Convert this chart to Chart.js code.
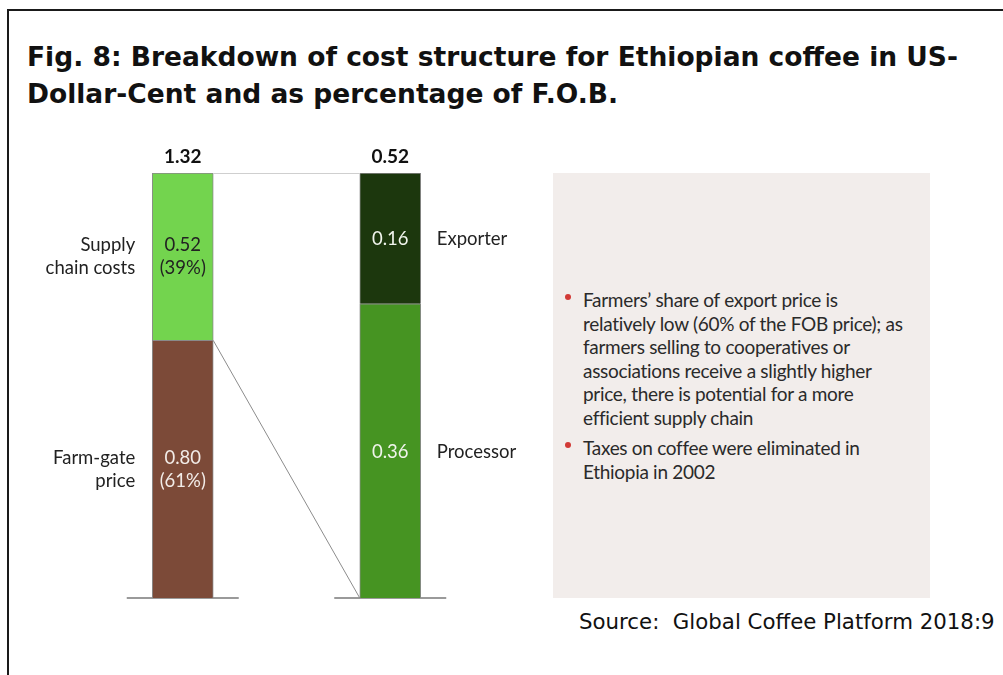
<!DOCTYPE html>
<html>
<head>
<meta charset="utf-8">
<script src="https://cdn.jsdelivr.net/npm/chart.js@4.4.1/dist/chart.umd.min.js"></script>
<style>
  html, body { margin:0; padding:0; background:#fff; }
  body { width:1003px; height:675px; position:relative; overflow:hidden; }
  #frame { position:absolute; left:7px; top:9px; width:1100px; height:800px; border:2px solid #1a1a1a; box-sizing:border-box; }
  #title { position:absolute; left:27px; top:38px; font-family:"DejaVu Sans", Verdana, sans-serif; font-weight:bold; font-size:26.5px; line-height:37px; color:#111; white-space:nowrap; }
  #box { position:absolute; left:553px; top:173px; width:377px; height:425px; background:#f2edeb; }
  .bul { position:absolute; left:583px; font-family:Lato, sans-serif; font-size:19px; line-height:23.5px; color:#2a2a2a; letter-spacing:-0.3px; }
  .bul span { display:block; white-space:nowrap; }
  .dot { position:absolute; width:6px; height:6px; border-radius:3px; background:#d23a36; left:565px; }
  #source { position:absolute; left:579px; top:609px; font-family:"DejaVu Sans", Verdana, sans-serif; font-size:21.3px; color:#111; white-space:nowrap; }
  #c { position:absolute; left:0; top:0; }
</style>
</head>
<body>
<div id="frame"></div>
<div id="title">Fig. 8: Breakdown of cost structure for Ethiopian coffee in US-<br>Dollar-Cent and as percentage of F.O.B.</div>
<div id="box"></div>
<div class="dot" style="top:294px"></div>
<div class="bul" style="top:288px"><span>Farmers’ share of export price is</span><span>relatively low (60% of the FOB price); as</span><span>farmers selling to cooperatives or</span><span>associations receive a slightly higher</span><span>price, there is potential for a more</span><span>efficient supply chain</span></div>
<div class="dot" style="top:442px"></div>
<div class="bul" style="top:436px"><span>Taxes on coffee were eliminated in</span><span>Ethiopia in 2002</span></div>
<div id="source">Source:&nbsp; Global Coffee Platform 2018:9</div>
<canvas id="c" width="1003" height="675"></canvas>
<script>
const categories = ['F.O.B.', 'Supply chain costs'];
const farmGate = [0.80, null];
const supplyChain = [0.52, null];
const processor = [null, 0.36];
const exporter = [null, 0.16];
const totals = [1.32, 0.52];
const totalLabels = ['1.32', '0.52'];
const shareLabels = ['(61%)', '(39%)'];

const labelFont = 'Lato, sans-serif';

const annot = {
  id: 'annot',
  beforeDatasetsDraw(chart) {
    const ctx = chart.ctx;
    const y0 = chart.scales.y.getPixelForValue(0);
    ctx.save();
    ctx.strokeStyle = '#9a9a9a';
    ctx.lineWidth = 2;
    chart.data.labels.forEach((_, i) => {
      const cx = chart.scales.x.getPixelForValue(i);
      ctx.beginPath();
      ctx.moveTo(cx - 56, y0);
      ctx.lineTo(cx + 56, y0);
      ctx.stroke();
    });
    ctx.restore();
  },
  afterDatasetsDraw(chart) {
    const ctx = chart.ctx;
    const m = i => chart.getDatasetMeta(i).data;
    const fg = m(0)[0], sc = m(1)[0], pr = m(2)[1], ex = m(3)[1];
    const half = fg.width / 2;
    ctx.save();
    // connectors
    ctx.strokeStyle = '#cfcfcf';
    ctx.lineWidth = 1;
    ctx.beginPath();
    ctx.moveTo(sc.x + half, sc.y + 0.5);
    ctx.lineTo(ex.x - half, ex.y + 0.5);
    ctx.stroke();
    ctx.strokeStyle = '#8c8c8c';
    ctx.beginPath();
    ctx.moveTo(fg.x + half, fg.y);
    ctx.lineTo(pr.x - half, pr.base);
    ctx.stroke();

    ctx.textBaseline = 'middle';
    // totals
    ctx.font = 'bold 19px ' + labelFont;
    ctx.fillStyle = '#111';
    ctx.textAlign = 'center';
    ctx.fillText(totalLabels[0], sc.x, sc.y - 16);
    ctx.fillText(totalLabels[1], ex.x, ex.y - 16);

    ctx.font = '18.5px ' + labelFont;
    const two = (el, a, b, color) => {
      const mid = (el.y + el.base) / 2;
      ctx.fillStyle = color;
      ctx.fillText(a, el.x, mid - 11.5);
      ctx.fillText(b, el.x, mid + 11.5);
    };
    two(sc, supplyChain[0].toFixed(2), shareLabels[1], '#222');
    two(fg, farmGate[0].toFixed(2), shareLabels[0], '#f2ece8');
    ctx.fillStyle = '#f0f4ec';
    ctx.fillText(exporter[1].toFixed(2), ex.x, (ex.y + ex.base) / 2 + 1);
    ctx.fillText(processor[1].toFixed(2), pr.x, (pr.y + pr.base) / 2 + 1);

    // side labels
    ctx.fillStyle = '#222';
    ctx.textAlign = 'right';
    const lx = fg.x - half - 17;
    let mid = (sc.y + sc.base) / 2;
    ctx.fillText('Supply', lx, mid - 11.5);
    ctx.fillText('chain costs', lx, mid + 11.5);
    mid = (fg.y + fg.base) / 2;
    ctx.fillText('Farm-gate', lx, mid - 11.5);
    ctx.fillText('price', lx, mid + 11.5);
    ctx.textAlign = 'left';
    const rx = ex.x + half + 16;
    ctx.fillText('Exporter', rx, (ex.y + ex.base) / 2 + 1);
    ctx.fillText('Processor', rx, (pr.y + pr.base) / 2 + 1);
    ctx.restore();
  }
};

new Chart(document.getElementById('c'), {
  type: 'bar',
  data: {
    labels: categories,
    datasets: [
      { label: 'Farm-gate price', data: farmGate, yAxisID: 'y', backgroundColor: '#7c4a38' },
      { label: 'Supply chain costs', data: supplyChain, yAxisID: 'y', backgroundColor: '#73d44e' },
      { label: 'Processor', data: processor, yAxisID: 'y2', backgroundColor: '#469422' },
      { label: 'Exporter', data: exporter, yAxisID: 'y2', backgroundColor: '#1c370d' }
    ]
  },
  options: {
    responsive: false,
    animation: false,
    events: [],
    layout: { padding: { left: 79, right: 509, top: 173, bottom: 77 } },
    datasets: { bar: { barThickness: 61, borderColor: '#8a8a8a', borderWidth: 1, borderSkipped: 'start' } },
    plugins: { legend: { display: false }, tooltip: { enabled: false } },
    scales: {
      x: { type: 'category', stacked: true, display: false },
      y: { stacked: true, min: 0, max: totals[0], display: false },
      y2: { stacked: true, min: 0, max: totals[1], display: false, position: 'right' }
    }
  },
  plugins: [annot]
});
</script>
</body>
</html>
